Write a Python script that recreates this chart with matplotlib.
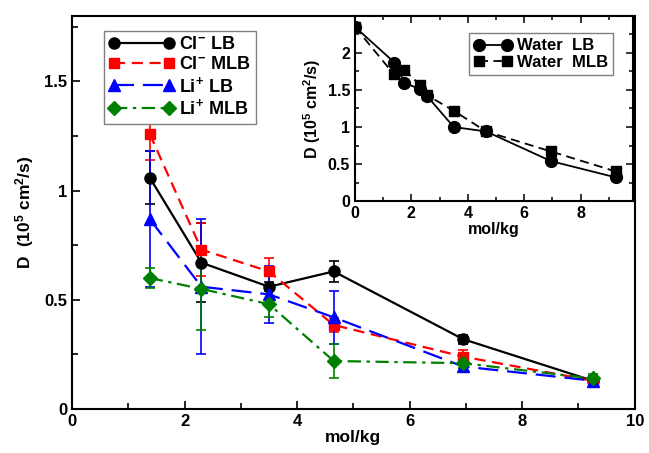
import numpy as np
import matplotlib
matplotlib.use("Agg")
import matplotlib.pyplot as plt
from matplotlib.ticker import MultipleLocator

plt.rcParams['font.family'] = ['Liberation Sans', 'DejaVu Sans']
plt.rcParams['font.weight'] = 'bold'
plt.rcParams['mathtext.fontset'] = 'custom'
plt.rcParams['mathtext.rm'] = 'Liberation Sans:bold'
plt.rcParams['mathtext.bf'] = 'Liberation Sans:bold'
plt.rcParams['mathtext.it'] = 'Liberation Sans:bold'
plt.rcParams['mathtext.default'] = 'bf'

# main panel data (mol/kg vs D)
conc = [1.38, 2.3, 3.5, 4.65, 6.95, 9.25]
cl_lb = [1.06, 0.67, 0.56, 0.63, 0.32, 0.13]
cl_lb_err = [0.12, 0.18, 0.02, 0.05, 0.02, 0.02]
cl_mlb = [1.26, 0.73, 0.63, 0.385, 0.24, 0.13]
cl_mlb_err = [0.12, 0.12, 0.06, 0.03, 0.03, 0.02]
li_lb = [0.87, 0.56, 0.525, 0.42, 0.195, 0.13]
li_lb_err = [0.31, 0.31, 0.13, 0.12, 0.02, 0.02]
li_mlb = [0.60, 0.55, 0.48, 0.22, 0.21, 0.14]
li_mlb_err = [0.045, 0.19, 0.06, 0.08, 0.02, 0.02]

# inset data (water)
w_lb_x = [0, 1.4, 1.75, 2.3, 2.55, 3.5, 4.65, 6.95, 9.25]
w_lb = [2.35, 1.87, 1.60, 1.51, 1.42, 1.00, 0.94, 0.54, 0.32]
w_mlb_x = [0, 1.38, 1.75, 2.3, 2.55, 3.5, 4.65, 6.95, 9.25]
w_mlb = [2.35, 1.71, 1.77, 1.57, 1.43, 1.22, 0.94, 0.67, 0.40]

fig = plt.figure(figsize=(6.49, 4.53), dpi=100)
ax = fig.add_axes([0.111, 0.097, 0.867, 0.868])

series = [
    (cl_lb, cl_lb_err, 'black', 'o', 8, '-', r'Cl$^{-}$ LB'),
    (cl_mlb, cl_mlb_err, 'red', 's', 7, (0, (5, 3)), r'Cl$^{-}$ MLB'),
    (li_lb, li_lb_err, 'blue', '^', 8.5, (0, (9, 4)), r'Li$^{+}$ LB'),
    (li_mlb, li_mlb_err, 'green', 'D', 7, (0, (6, 2.5, 1.5, 2.5)), r'Li$^{+}$ MLB'),
]
handles = []
labels = []
for y, err, c, m, ms, ls, lab in series:
    eb = ax.errorbar(conc, y, yerr=err, color=c, marker=m, ms=ms, lw=1.6, ls=ls,
                     capsize=3.5, elinewidth=1.2, capthick=1.2)
    handles.append(eb[0])
    labels.append(lab)

ax.set_xlim(0, 10)
ax.set_ylim(0, 1.8)
ax.set_xticks([0, 2, 4, 6, 8, 10])
ax.set_xticklabels(['0', '2', '4', '6', '8', '10'])
ax.xaxis.set_minor_locator(MultipleLocator(1))
ax.set_yticks([0, 0.5, 1, 1.5])
ax.set_yticklabels(['0', '0.5', '1', '1.5'])
ax.yaxis.set_minor_locator(MultipleLocator(0.25))
ax.tick_params(which='both', direction='in', labelsize=12, width=1.2)
ax.tick_params(which='major', length=6)
ax.tick_params(which='minor', length=4)
for s in ax.spines.values():
    s.set_linewidth(1.5)
ax.set_xlabel('mol/kg', fontsize=12.5, fontweight='bold', labelpad=1)
ax.set_ylabel(r'D  (10$^5$ cm$^2$/s)', fontsize=12.5, fontweight='bold', labelpad=6)

leg = ax.legend(handles, labels, loc='upper left', bbox_to_anchor=(0.04, 0.985), fontsize=13,
                frameon=True, fancybox=False, edgecolor='gray', framealpha=1,
                handlelength=3.6, handletextpad=0.3, labelspacing=0.15,
                borderpad=0.3, numpoints=2)
leg.get_frame().set_linewidth(1.0)
leg.set_zorder(10)

# inset
ins = fig.add_axes([0.547, 0.556, 0.428, 0.409])
ins.plot(w_lb_x, w_lb, color='black', marker='o', ms=8.5, lw=1.3, ls='-', label='Water  LB')
ins.plot(w_mlb_x, w_mlb, color='black', marker='s', ms=7, lw=1.3, ls=(0, (5, 3)), label='Water  MLB')
ins.set_xlim(0, 9.85)
ins.set_ylim(0, 2.5)
ins.set_xticks([0, 2, 4, 6, 8])
ins.set_xticklabels(['0', '2', '4', '6', '8'])
ins.xaxis.set_minor_locator(MultipleLocator(1))
ins.set_yticks([0, 0.5, 1, 1.5, 2])
ins.set_yticklabels(['0', '0.5', '1', '1.5', '2'])
ins.yaxis.set_minor_locator(MultipleLocator(0.25))
ins.tick_params(which='both', direction='in', labelsize=11.5, width=1.1,
                top=True, right=True)
ins.tick_params(which='major', length=5)
ins.tick_params(which='minor', length=3)
for s in ins.spines.values():
    s.set_linewidth(1.5)
ins.set_xlabel('mol/kg', fontsize=11.5, fontweight='bold', labelpad=1)
ins.set_ylabel(r'D (10$^5$ cm$^2$/s)', fontsize=11.5, fontweight='bold', labelpad=3)
ileg = ins.legend(loc='upper right', bbox_to_anchor=(0.96, 0.95), fontsize=12,
                  frameon=True, fancybox=False, edgecolor='gray', framealpha=1,
                  handlelength=2.3, handletextpad=0.3, labelspacing=0.1,
                  borderpad=0.3, numpoints=2)
ileg.get_frame().set_linewidth(1.0)

fig.savefig('out.png', dpi=100)
